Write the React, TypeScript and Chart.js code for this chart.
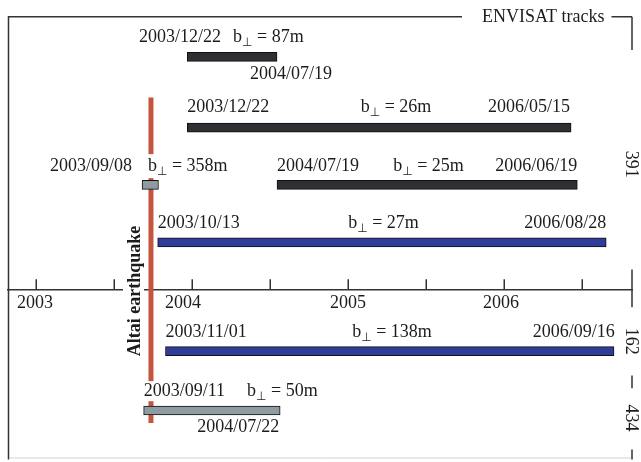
import React, { useEffect, useRef } from "react";
import { Chart, registerables } from "chart.js";

Chart.register(...registerables);

// ---- scales (decimal years, lane units) ----
const X_FIRST_TICK = 2003;
const X_SPAN_YEARS = 4;
const Y_SPAN = 46.2;
const AXIS_ROW = 29;
const TICK_YEARS = [2003, 2003.5, 2004, 2004.5, 2005, 2005.5, 2006, 2006.5];
const YEAR_LABELS = ["2003", "2004", "2005", "2006"];
const YEAR_VALUES = [2003, 2004, 2005, 2006];
const YEAR_NUDGE = [-1, -9, 0, -3];

// ---- interferogram pairs (decimal years) ----
const DARK_START = [2003.97, 2003.97, 2004.545];
const DARK_END = [2004.545, 2006.43, 2006.47];
const DARK_ROW = [5.5, 12.65, 18.43];

const BLUE_START = [2003.78, 2003.83];
const BLUE_END = [2006.655, 2006.705];
const BLUE_ROW = [24.25, 35.25];

const GREY_START = [2003.68, 2003.69];
const GREY_END = [2003.785, 2004.565];
const GREY_ROW = [18.43, 41.25];

// ---- earthquake ----
const EQ_YEAR = 2003.737;
const EQ_ROWS = [9.6, 42.5];
const EQ_LABEL = "Altai earthquake";

// ---- track numbers (right side) ----
const TRACK_NAMES = ["391", "162", "434"];
const TRACK_ROWS = [16.35, 34.25, 42.0];
const FRAME_RIGHT_SEGMENTS = [
  [1.45, 4.8],
  [27.0, 30.8],
  [37.7, 39.0],
  [45.2, 46.2],
];
const FRAME_TOP_ROW = 1.45;
const FRAME_TITLE = "ENVISAT tracks";

// ---- annotation labels: date labels and perpendicular baselines ----
const DATE_TEXT = [
  "2003/12/22", "2004/07/19",
  "2003/12/22", "2006/05/15",
  "2003/09/08", "2004/07/19", "2006/06/19",
  "2003/10/13", "2006/08/28",
  "2003/11/01", "2006/09/16",
  "2003/09/11", "2004/07/22",
];
const DATE_X = [
  2003.66, 2004.897,
  2003.97, 2006.423,
  2003.615, 2004.545, 2006.47,
  2003.78, 2006.655,
  2003.83, 2006.71,
  2003.69, 2004.56,
];
const DATE_ROW = [4.0, 7.7, 11.1, 11.1, 17.05, 17.05, 17.05, 22.8, 22.8, 33.8, 33.8, 39.8, 43.4];
const DATE_ALIGN = [
  "left", "right",
  "left", "right",
  "right", "left", "right",
  "left", "right",
  "left", "right",
  "left", "right",
];

const BPERP_VALUE = ["87m", "26m", "358m", "25m", "27m", "138m", "50m"];
const BPERP_X = [2004.263, 2005.308, 2003.718, 2005.516, 2005.228, 2005.282, 2004.353];
const BPERP_ROW = [4.0, 11.1, 17.05, 17.05, 22.8, 33.8, 39.8];
const BPERP_ALIGN = ["left", "center", "left", "center", "center", "center", "left"];

const SERIF = '"Liberation Serif", "Times New Roman", serif';
const FONT = `18px ${SERIF}`;
const SUB_FONT = '12px "DejaVu Sans", sans-serif';
const TEXT_COLOR = "#1c1c1c";
const LINE_COLOR = "#333333";

function toBars(start: number[], end: number[], row: number[]) {
  return start.map((s, i) => ({ x: [s, end[i]], y: row[i] }));
}

const decorPlugin = {
  id: "decor",
  afterDraw(chart: any) {
    const ctx: CanvasRenderingContext2D = chart.ctx;
    const xs = chart.scales.x;
    const ys = chart.scales.y;
    const px = (v: number) => xs.getPixelForValue(v);
    const py = (v: number) => ys.getPixelForValue(v);
    ctx.save();

    // frame
    ctx.strokeStyle = LINE_COLOR;
    ctx.lineWidth = 1.5;
    const top = py(FRAME_TOP_ROW);
    const left = xs.left + 0.5;
    const right = xs.right;
    const bottom = py(Y_SPAN);
    ctx.font = FONT;
    const titleW = ctx.measureText(FRAME_TITLE).width;
    const titleX = 482;
    ctx.beginPath();
    ctx.moveTo(left, bottom);
    ctx.lineTo(left, top);
    ctx.lineTo(titleX - 20, top);
    ctx.moveTo(titleX + titleW + 7, top);
    ctx.lineTo(right, top);
    ctx.stroke();
    ctx.beginPath();
    FRAME_RIGHT_SEGMENTS.forEach(([a, b]) => {
      ctx.moveTo(right, py(a));
      ctx.lineTo(right, py(b));
    });
    ctx.stroke();
    ctx.fillStyle = TEXT_COLOR;
    ctx.textAlign = "left";
    ctx.textBaseline = "alphabetic";
    ctx.fillText(FRAME_TITLE, titleX, top + 5);

    // bottom faint line
    ctx.strokeStyle = "#d2d2d2";
    ctx.lineWidth = 1;
    ctx.beginPath();
    ctx.moveTo(left + 1, bottom - 1.5);
    ctx.lineTo(right - 1, bottom - 1.5);
    ctx.stroke();

    // upward ticks
    ctx.strokeStyle = LINE_COLOR;
    ctx.lineWidth = 1.5;
    const ay = py(AXIS_ROW);
    ctx.beginPath();
    TICK_YEARS.forEach((t) => {
      const x = Math.round(px(t)) + 0.25;
      ctx.moveTo(x, ay);
      ctx.lineTo(x, ay - 10);
    });
    ctx.stroke();

    // year labels
    ctx.fillStyle = TEXT_COLOR;
    ctx.font = FONT;
    ctx.textAlign = "center";
    ctx.textBaseline = "alphabetic";
    YEAR_LABELS.forEach((l, i) => {
      ctx.fillText(l, px(YEAR_VALUES[i]) + YEAR_NUDGE[i], ay + 19);
    });

    // track numbers, rotated
    TRACK_NAMES.forEach((n, i) => {
      ctx.save();
      ctx.translate(right, py(TRACK_ROWS[i]));
      ctx.rotate(Math.PI / 2);
      ctx.textAlign = "center";
      ctx.textBaseline = "middle";
      ctx.fillText(n, 0, 1);
      ctx.restore();
    });

    // earthquake label
    ctx.save();
    ctx.font = `bold 18px ${SERIF}`;
    const eqW = ctx.measureText(EQ_LABEL).width;
    const eqX = 140;
    const eqY = 291;
    ctx.fillStyle = "#ffffff";
    ctx.fillRect(eqX - 17, eqY - eqW / 2 - 2, 21, eqW + 4);
    ctx.translate(eqX, eqY);
    ctx.rotate(-Math.PI / 2);
    ctx.fillStyle = TEXT_COLOR;
    ctx.textAlign = "center";
    ctx.textBaseline = "alphabetic";
    ctx.fillText(EQ_LABEL, 0, 0);
    ctx.restore();

    // date labels
    ctx.textBaseline = "alphabetic";
    DATE_TEXT.forEach((t, i) => {
      ctx.font = FONT;
      const w = ctx.measureText(t).width;
      const xp = px(DATE_X[i]);
      const x0 = DATE_ALIGN[i] === "right" ? xp - w : xp;
      const y0 = py(DATE_ROW[i]);
      ctx.fillStyle = "#ffffff";
      ctx.fillRect(x0 - 1, y0 - 15, w + 2, 20);
      ctx.fillStyle = TEXT_COLOR;
      ctx.textAlign = "left";
      ctx.fillText(t, x0, y0);
    });

    // perpendicular baseline labels
    BPERP_VALUE.forEach((v, i) => {
      ctx.font = FONT;
      const wb = ctx.measureText("b").width;
      const rest = " = " + v;
      const wr = ctx.measureText(rest).width;
      ctx.font = SUB_FONT;
      const wp = ctx.measureText("\u22A5").width;
      const total = wb + wp + wr;
      const xp = px(BPERP_X[i]);
      const a = BPERP_ALIGN[i];
      const x0 = a === "center" ? xp - total / 2 : a === "right" ? xp - total : xp;
      const y0 = py(BPERP_ROW[i]);
      ctx.fillStyle = "#ffffff";
      ctx.fillRect(x0 - 2, y0 - 17, total + 4, 24);
      ctx.fillStyle = TEXT_COLOR;
      ctx.textAlign = "left";
      ctx.font = FONT;
      ctx.fillText("b", x0, y0);
      ctx.font = SUB_FONT;
      ctx.fillText("\u22A5", x0 + wb, y0 + 4);
      ctx.font = FONT;
      ctx.fillText(rest, x0 + wb + wp, y0);
    });

    ctx.restore();
  },
};

export default function App() {
  const ref = useRef<HTMLCanvasElement | null>(null);

  useEffect(() => {
    if (!ref.current) return;
    const barCommon = {
      type: "bar" as const,
      borderColor: "#111111",
      borderWidth: 1,
      borderSkipped: false,
      barThickness: 9,
      grouped: false,
    };
    const chart = new Chart(ref.current, {
      type: "bar",
      data: {
        datasets: [
          {
            ...barCommon,
            label: "dark",
            data: toBars(DARK_START, DARK_END, DARK_ROW) as any,
            backgroundColor: "#2f2f34",
          },
          {
            ...barCommon,
            label: "blue",
            data: toBars(BLUE_START, BLUE_END, BLUE_ROW) as any,
            backgroundColor: "#2f3c98",
          },
          {
            ...barCommon,
            label: "grey",
            data: toBars(GREY_START, GREY_END, GREY_ROW) as any,
            backgroundColor: "#8e9ba1",
          },
          {
            type: "line" as const,
            label: "earthquake",
            data: EQ_ROWS.map((r) => ({ x: EQ_YEAR, y: r })) as any,
            borderColor: "#c4553f",
            borderWidth: 5,
            borderCapStyle: "butt",
            pointRadius: 0,
            fill: false,
            tension: 0,
          } as any,
        ],
      },
      options: {
        indexAxis: "y",
        responsive: false,
        animation: false,
        events: [],
        layout: { padding: { left: 8, right: 9, top: 0, bottom: 0 } },
        plugins: {
          legend: { display: false },
          tooltip: { enabled: false },
        },
        scales: {
          x: {
            type: "linear",
            offset: false,
            min: X_FIRST_TICK - 0.1795,
            max: X_FIRST_TICK - 0.1795 + X_SPAN_YEARS,
            position: { y: AXIS_ROW } as any,
            grid: { display: false, drawTicks: false, offset: false },
            border: { display: true, color: LINE_COLOR, width: 1.5 },
            ticks: { display: false },
          },
          y: {
            type: "linear",
            offset: false,
            min: 0,
            max: Y_SPAN,
            reverse: true,
            display: false,
            grid: { offset: false },
          },
        },
      },
      plugins: [decorPlugin],
    });

    // Align the scales with the actual plotting area: 10 px per lane unit,
    // 156 px per year with 2003 sitting 28 px right of the plot's left edge.
    const area = chart.chartArea;
    const cfgScales: any = (chart.config as any).options.scales;
    cfgScales.y.min = area.top / 10;
    cfgScales.y.max = area.bottom / 10;
    const xMin = X_FIRST_TICK - (36 - area.left) / 156;
    cfgScales.x.min = xMin;
    cfgScales.x.max = xMin + (area.right - area.left) / 156;
    chart.update("none");

    return () => chart.destroy();
  }, []);

  return (
    <div style={{ position: "absolute", left: 0, top: 0, width: 641, height: 462, background: "#fff" }}>
      <canvas ref={ref} width={641} height={462} />
    </div>
  );
}
